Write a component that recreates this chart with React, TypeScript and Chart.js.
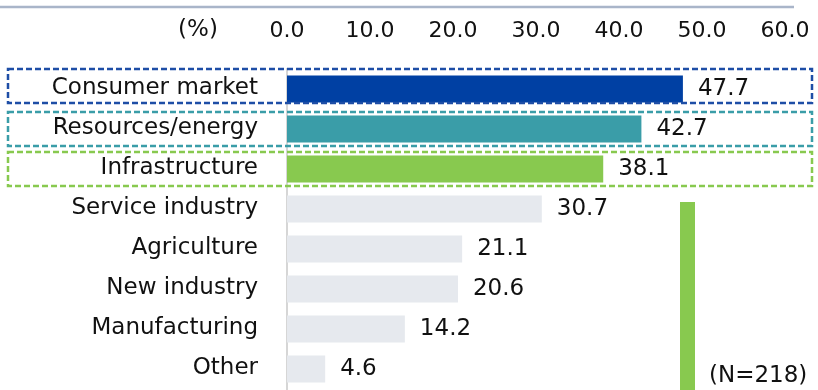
import React, { useEffect, useRef } from "react";
import { Chart, registerables } from "chart.js";

Chart.register(...registerables);

const categories = [
  "Consumer market",
  "Resources/energy",
  "Infrastructure",
  "Service industry",
  "Agriculture",
  "New industry",
  "Manufacturing",
  "Other",
];
const values = [47.7, 42.7, 38.1, 30.7, 21.1, 20.6, 14.2, 4.6];
const barColors = ["#0040A3", "#3A9DA8", "#88C94F", "#E6E9EE", "#E6E9EE", "#E6E9EE", "#E6E9EE", "#E6E9EE"];
const boxColors = ["#1E4EA6", "#3A9DA8", "#88C94F"];
const axisMin = 0;
const axisMax = 60;
const axisStep = 10;
const unitLabel = "(%)";
const sampleLabel = "(N=218)";

const FONT = "'DejaVu Sans', Verdana, sans-serif";
const TEXT = "#111111";

const decorPlugin = {
  id: "decor",
  beforeDraw(chart: any) {
    const ctx = chart.ctx;
    ctx.save();
    // top rule
    ctx.strokeStyle = "#A9B5C9";
    ctx.lineWidth = 2.5;
    ctx.beginPath();
    ctx.moveTo(0, 7);
    ctx.lineTo(794, 7);
    ctx.stroke();
    // unit label
    ctx.fillStyle = TEXT;
    ctx.font = `23px ${FONT}`;
    ctx.textAlign = "center";
    ctx.textBaseline = "middle";
    ctx.fillText(unitLabel, 198, 30);
    ctx.restore();
  },
  afterDraw(chart: any) {
    const ctx = chart.ctx;
    const meta = chart.getDatasetMeta(0);
    const yScale = chart.scales.y;
    ctx.save();
    // value labels
    ctx.fillStyle = TEXT;
    ctx.font = `23px ${FONT}`;
    ctx.textAlign = "left";
    ctx.textBaseline = "middle";
    meta.data.forEach((bar: any, i: number) => {
      ctx.fillText(values[i].toFixed(1), bar.x + 15, bar.y);
    });
    // dashed boxes around the top three categories
    const boxShift = [-3, 0, 0];
    ctx.lineWidth = 2.5;
    ctx.setLineDash([6, 3]);
    boxColors.forEach((c, i) => {
      const cy = yScale.getPixelForValue(i) + boxShift[i];
      ctx.strokeStyle = c;
      ctx.strokeRect(8, cy - 17, 804, 34);
    });
    ctx.setLineDash([]);
    // green vertical marker
    const ca = chart.chartArea;
    ctx.fillStyle = "#88C94F";
    const top = yScale.getPixelForValue(3) - 7;
    ctx.fillRect(680, top, 15, ca.bottom + 2 - top);
    // sample size
    ctx.fillStyle = TEXT;
    ctx.font = `23px ${FONT}`;
    ctx.textAlign = "left";
    ctx.fillText(sampleLabel, 709, yScale.getPixelForValue(7) + 7);
    ctx.restore();
  },
};

export default function App() {
  const ref = useRef<HTMLCanvasElement | null>(null);
  useEffect(() => {
    document.body.style.margin = "0";
    const canvas = ref.current;
    if (!canvas) return;
    const chart = new Chart(canvas, {
      type: "bar",
      data: {
        labels: categories,
        datasets: [
          {
            data: values,
            backgroundColor: barColors,
            borderWidth: 0,
            categoryPercentage: 1,
            barPercentage: 0.675,
          },
        ],
      },
      options: {
        indexAxis: "y",
        animation: false,
        responsive: false,
        devicePixelRatio: 1,
        layout: { padding: { top: 0, left: 0, right: 33, bottom: 1 } },
        plugins: {
          legend: { display: false },
          tooltip: { enabled: false },
          title: { display: false },
        },
        scales: {
          x: {
            position: "top",
            min: axisMin,
            max: axisMax,
            afterFit: (s: any) => {
              s.height = 69;
              s.paddingLeft = 0;
              s.paddingRight = 0;
            },
            grid: { display: false, drawTicks: false },
            border: { display: false },
            ticks: {
              stepSize: axisStep,
              padding: 25,
              color: TEXT,
              font: { family: FONT, size: 22 },
              maxRotation: 0,
              callback: (v: any) => Number(v).toFixed(1),
            },
          },
          y: {
            afterFit: (s: any) => {
              s.width = 287;
              s.paddingTop = 0;
              s.paddingBottom = 0;
            },
            grid: { display: false, drawTicks: false },
            border: { display: true, color: "#D6D6D6", width: 2 },
            ticks: {
              padding: 29,
              labelOffset: -1,
              color: TEXT,
              font: { family: FONT, size: 23 },
              autoSkip: false,
            },
          },
        },
      },
      plugins: [decorPlugin],
    } as any);
    return () => chart.destroy();
  }, []);
  return (
    <div style={{ position: "absolute", left: 0, top: 0, width: 818, height: 390 }}>
      <canvas ref={ref} width={818} height={390} style={{ width: 818, height: 390 }} />
    </div>
  );
}
